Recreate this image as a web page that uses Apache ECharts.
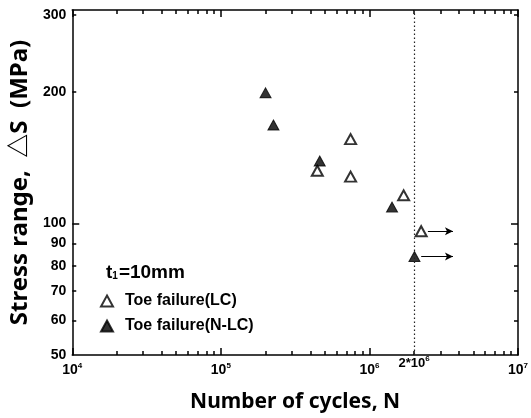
<!DOCTYPE html>
<html>
<head>
<meta charset="utf-8">
<script src="https://cdn.jsdelivr.net/npm/echarts@6/dist/echarts.min.js"></script>
<style>
  html, body { margin: 0; padding: 0; background: #fff; }
  #main { width: 531px; height: 418px; }
</style>
</head>
<body>
<div id="main"></div>
<script>
// 数据
var cyclesLC = [7.47e5, 4.46e5, 7.47e5, 1.70e6, 2.23e6];
var stressLC = [156, 132, 128, 116, 96];
var cyclesNLC = [2.0e5, 2.26e5, 4.63e5, 1.42e6, 2.01e6];
var stressNLC = [199, 168, 139, 109, 84];
var runoutLC = [4];   // 未破坏点 (箭头)
var runoutNLC = [4];
var runoutEnd = 3.65e6;
var refCycles = 2e6;

var yTicks = [50, 60, 70, 80, 90, 100, 200, 300];

var fontNum = 'Liberation Sans';
var fontTxt = '"Noto Sans", "Noto Sans CJK KR", sans-serif';

function pairs(xs, ys) {
	var out = [];
	for (var i = 0; i < xs.length; i++) out.push([xs[i], ys[i]]);
	return out;
}
function arrows(xs, ys, idx) {
	var out = [];
	for (var i = 0; i < idx.length; i++) {
		var j = idx[i];
		out.push([{ coord: [xs[j] * 1.11, ys[j]] }, { coord: [runoutEnd, ys[j]] }]);
	}
	return out;
}
function supLabel(v) {
	return '{b|10}{sup|' + Math.round(Math.log(v) / Math.LN10) + '}';
}

// 主刻度 + 次刻度 (log轴 minorTick 在2..9处)
function xAx(pos, withLabel) {
	var ax = {
		type: 'log', position: pos, min: 1e4, max: 1e7,
		axisLine: { show: true, lineStyle: { color: '#000', width: 1.5 } },
		axisTick: { inside: true, length: 7, lineStyle: { color: '#000', width: 1.5 } },
		minorTick: { show: true, splitNumber: 9, length: 4, lineStyle: { color: '#000', width: 1.5 } },
		axisLabel: withLabel ? {
			margin: 7, formatter: supLabel,
			rich: {
				b: { fontFamily: fontNum, fontWeight: 'bold', fontSize: 14, color: '#000' },
				sup: { fontFamily: fontNum, fontWeight: 'bold', fontSize: 8, color: '#000', padding: [0, 0, 9, 0] }
			}
		} : { show: false },
		splitLine: { show: false }
	};
	if (withLabel) {
		ax.name = 'Number of cycles, N';
		ax.nameLocation = 'middle';
		ax.nameGap = 37;
		ax.nameTextStyle = { fontFamily: fontTxt, fontWeight: 'bold', fontSize: 21, color: '#000' };
	}
	return ax;
}
function yAx(pos, withLabel) {
	var ax = {
		type: 'log', position: pos, min: 50, max: 308,
		axisLine: { show: true, lineStyle: { color: '#000', width: 1.5 } },
		axisTick: { show: true, inside: true, length: 7, customValues: [100], lineStyle: { color: '#000', width: 1.5 } },
		minorTick: { show: true, splitNumber: 9, length: 4, lineStyle: { color: '#000', width: 1.5 } },
		axisLabel: withLabel ? {
			show: true, customValues: yTicks, margin: 6,
			fontFamily: fontNum, fontWeight: 'bold', fontSize: 14, color: '#000'
		} : { show: false },
		splitLine: { show: false }
	};
	if (withLabel) {
		ax.name = 'Stress range,  △S  (MPa)';
		ax.nameLocation = 'middle';
		ax.nameGap = 35;
		ax.nameTextStyle = { fontFamily: fontTxt, fontWeight: 'bold', fontSize: 24, color: '#000' };
	}
	return ax;
}

var myChart = echarts.init(document.getElementById('main'));
var option = {
	backgroundColor: '#fff',
	animation: false,
	title: {
		text: 't{sub|1}=10mm', left: 101, top: 258,
		textStyle: {
			fontFamily: fontNum, fontWeight: 'bold', fontSize: 19, color: '#000',
			rich: { sub: { fontFamily: fontNum, fontWeight: 'bold', fontSize: 10, color: '#000', padding: [7, 1, 0, 0] } }
		}
	},
	legend: {
		orient: 'vertical', left: 95, top: 288, itemGap: 9,
		itemWidth: 12, itemHeight: 11,
		textStyle: { fontFamily: fontNum, fontWeight: 'bold', fontSize: 16, color: '#000', padding: [0, 0, 0, 7] },
		data: [
			{ name: 'Toe failure(LC)', icon: 'triangle' },
			{ name: 'Toe failure(N-LC)', icon: 'triangle' }
		]
	},
	grid: { left: 72, right: 11, top: 10, bottom: 62 },
	xAxis: [xAx('bottom', true), xAx('top', false)],
	yAxis: [yAx('left', true), yAx('right', false)],
	series: [
		{
			name: 'Toe failure(LC)', type: 'scatter', xAxisIndex: 0, yAxisIndex: 0,
			symbol: 'triangle', symbolSize: [11, 10],
			itemStyle: { color: '#fff', borderColor: '#000', borderWidth: 2 },
			data: pairs(cyclesLC, stressLC),
			markLine: {
				silent: true, symbol: ['none', 'arrow'], symbolSize: [6, 8],
				lineStyle: { color: '#000', width: 1, type: 'solid' },
				label: { show: false },
				data: arrows(cyclesLC, stressLC, runoutLC)
			}
		},
		{
			name: 'Toe failure(N-LC)', type: 'scatter', xAxisIndex: 0, yAxisIndex: 0,
			symbol: 'triangle', symbolSize: [11, 10],
			itemStyle: { color: '#000', borderColor: '#000', borderWidth: 1 },
			data: pairs(cyclesNLC, stressNLC),
			markLine: {
				silent: true, symbol: ['none', 'arrow'], symbolSize: [6, 8],
				lineStyle: { color: '#000', width: 1, type: 'solid' },
				label: { show: false },
				data: arrows(cyclesNLC, stressNLC, runoutNLC)
			}
		},
		{
			// 2*10^6 参考线
			name: 'ref', type: 'scatter', xAxisIndex: 0, yAxisIndex: 0, data: [],
			markLine: {
				silent: true, symbol: ['none', 'none'],
				lineStyle: { color: '#222', width: 1.2, type: [1.5, 2.5] },
				label: {
					show: true, position: 'start', distance: 0,
					formatter: '{b|2*10}{sup|6}',
					rich: {
						b: { fontFamily: fontNum, fontWeight: 'bold', fontSize: 13, color: '#000' },
						sup: { fontFamily: fontNum, fontWeight: 'bold', fontSize: 8, color: '#000', padding: [0, 0, 9, 0] }
					}
				},
				data: [{ xAxis: refCycles }]
			}
		}
	]
};
myChart.setOption(option);
</script>
</body>
</html>
